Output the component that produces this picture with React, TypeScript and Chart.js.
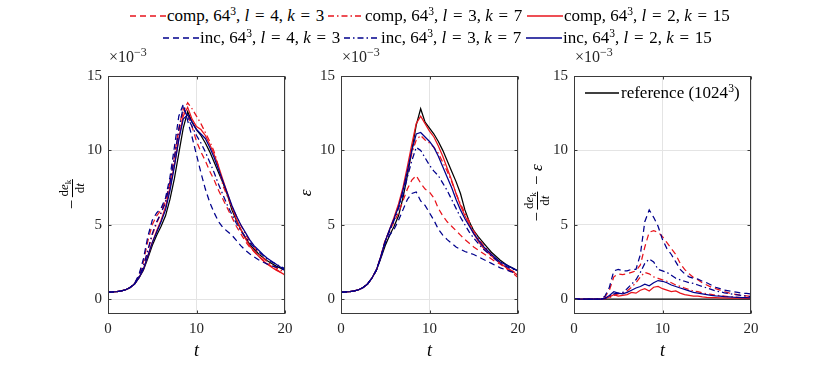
import React, { useEffect, useRef } from "react";
import { Chart, registerables } from "chart.js";

Chart.register(...registerables);

// ---------- data (values in units of 1e-3) ----------
const tValues = [0, 0.5, 1, 1.5, 2, 2.5, 3, 3.5, 4, 4.5, 5, 5.5, 6, 6.5, 7, 7.5, 8, 8.5, 9, 9.5, 10, 10.5, 11, 11.5, 12, 12.5, 13, 13.5, 14, 14.5, 15, 15.5, 16, 16.5, 17, 17.5, 18, 18.5, 19, 19.5, 20];
const xTicks = [0, 10, 20];
const yTicks = [0, 5, 10, 15];

// panel 1: -dE/dt
const p1Ref = [0.47, 0.48, 0.5, 0.55, 0.63, 0.78, 1.02, 1.42, 1.95, 2.75, 3.6, 4.3, 4.9, 5.6, 6.7, 8.1, 9.8, 11.5, 12.6, 11.9, 11.4, 11.0, 10.5, 9.9, 9.2, 8.5, 7.8, 7.0, 6.0, 5.3, 4.7, 4.15, 3.7, 3.35, 3.05, 2.8, 2.58, 2.4, 2.22, 2.08, 1.95];
const p1C43 = [0.47, 0.48, 0.5, 0.55, 0.63, 0.78, 1.05, 1.6, 2.5, 3.9, 5.0, 5.6, 6.0, 6.6, 7.8, 9.6, 11.5, 12.8, 12.4, 11.6, 10.6, 9.9, 9.3, 8.6, 8.0, 7.3, 6.7, 6.1, 5.5, 4.9, 4.4, 3.9, 3.5, 3.2, 2.9, 2.65, 2.4, 2.2, 2.0, 1.8, 1.6];
const p1I43 = [0.47, 0.48, 0.5, 0.55, 0.63, 0.78, 1.05, 1.65, 2.7, 4.2, 5.3, 5.8, 6.1, 6.8, 8.2, 10.2, 12.3, 13.1, 12.0, 10.9, 9.7, 8.5, 7.4, 6.5, 5.8, 5.2, 4.8, 4.55, 4.3, 3.95, 3.6, 3.3, 3.05, 2.85, 2.65, 2.5, 2.35, 2.25, 2.15, 2.05, 1.95];
const p1C37 = [0.47, 0.48, 0.5, 0.55, 0.63, 0.78, 1.03, 1.5, 2.2, 3.2, 4.3, 5.1, 5.8, 6.6, 7.9, 9.5, 11.3, 12.6, 13.2, 12.8, 12.3, 11.8, 11.2, 10.6, 9.9, 8.9, 7.6, 6.9, 6.2, 5.6, 5.0, 4.4, 3.9, 3.5, 3.1, 2.8, 2.5, 2.3, 2.1, 1.95, 1.8];
const p1I37 = [0.47, 0.48, 0.5, 0.55, 0.63, 0.78, 1.03, 1.5, 2.2, 3.3, 4.4, 5.2, 5.8, 6.5, 7.8, 9.5, 11.4, 12.9, 12.2, 11.6, 11.0, 10.5, 9.9, 9.2, 8.5, 7.7, 7.0, 6.3, 5.7, 5.1, 4.6, 4.2, 3.8, 3.5, 3.2, 2.95, 2.7, 2.5, 2.35, 2.2, 2.05];
const p1C215 = [0.47, 0.48, 0.5, 0.55, 0.63, 0.78, 1.02, 1.45, 2.0, 2.9, 3.8, 4.6, 5.3, 6.2, 7.5, 9.0, 10.8, 12.3, 12.9, 12.1, 11.6, 11.4, 11.0, 10.4, 9.7, 8.9, 8.0, 7.1, 6.2, 5.4, 4.7, 4.1, 3.6, 3.2, 2.9, 2.6, 2.35, 2.15, 1.95, 1.8, 1.62];
const p1I215 = [0.47, 0.48, 0.5, 0.55, 0.63, 0.78, 1.02, 1.45, 2.0, 2.9, 3.8, 4.5, 5.2, 6.0, 7.3, 8.9, 10.7, 12.1, 12.4, 11.9, 11.4, 11.1, 10.8, 10.2, 9.5, 8.7, 7.9, 7.1, 6.3, 5.6, 5.0, 4.5, 4.0, 3.6, 3.3, 3.0, 2.75, 2.55, 2.35, 2.15, 2.0];

// panel 2: epsilon
const p2Ref = [0.47, 0.48, 0.5, 0.55, 0.63, 0.78, 1.02, 1.42, 1.95, 2.75, 3.6, 4.3, 4.9, 5.6, 6.8, 8.3, 10.0, 11.7, 12.8, 11.9, 11.5, 11.1, 10.6, 10.0, 9.3, 8.6, 7.9, 7.1, 6.0, 5.2, 4.6, 4.2, 3.85, 3.5, 3.15, 2.88, 2.62, 2.4, 2.2, 2.05, 1.9];
const p2C43 = [0.47, 0.48, 0.5, 0.55, 0.63, 0.78, 1.02, 1.42, 1.95, 2.9, 4.0, 4.6, 5.2, 5.8, 6.6, 7.4, 8.0, 8.3, 7.8, 7.4, 7.2, 6.8, 6.1, 5.6, 5.2, 4.9, 4.6, 4.3, 4.0, 3.75, 3.5, 3.3, 3.1, 2.9, 2.7, 2.5, 2.35, 2.15, 1.9, 1.7, 1.45];
const p2I43 = [0.47, 0.48, 0.5, 0.55, 0.63, 0.78, 1.02, 1.42, 1.95, 2.8, 3.8, 4.3, 4.7, 5.3, 6.0, 6.7, 7.1, 7.2, 6.6, 6.3, 5.8, 5.3, 4.7, 4.3, 4.0, 3.75, 3.5, 3.35, 3.2, 3.1, 3.0, 2.85, 2.7, 2.55, 2.4, 2.25, 2.1, 2.0, 1.9, 1.78, 1.65];
const p2C37 = [0.47, 0.48, 0.5, 0.55, 0.63, 0.78, 1.02, 1.42, 1.95, 2.85, 3.9, 4.6, 5.4, 6.3, 7.3, 8.5, 9.8, 10.7, 11.0, 10.7, 10.5, 10.2, 9.8, 9.2, 8.6, 7.9, 7.1, 6.4, 5.8, 5.2, 4.6, 4.1, 3.7, 3.35, 3.0, 2.7, 2.4, 2.2, 2.0, 1.85, 1.7];
const p2I37 = [0.47, 0.48, 0.5, 0.55, 0.63, 0.78, 1.02, 1.42, 1.95, 2.85, 3.9, 4.6, 5.3, 6.1, 7.0, 8.2, 9.3, 10.2, 10.0, 9.5, 9.0, 8.6, 8.3, 7.8, 7.3, 6.7, 6.1, 5.5, 5.0, 4.5, 4.1, 3.75, 3.4, 3.15, 2.9, 2.65, 2.4, 2.25, 2.1, 2.0, 1.9];
const p2C215 = [0.47, 0.48, 0.5, 0.55, 0.63, 0.78, 1.02, 1.42, 1.95, 2.85, 3.9, 4.7, 5.5, 6.4, 7.5, 8.9, 10.4, 11.8, 12.3, 11.8, 11.3, 10.9, 10.3, 9.6, 8.8, 8.0, 7.1, 6.3, 5.6, 5.0, 4.4, 3.9, 3.5, 3.2, 2.9, 2.65, 2.4, 2.2, 2.0, 1.8, 1.6];
const p2I215 = [0.47, 0.48, 0.5, 0.55, 0.63, 0.78, 1.02, 1.42, 1.95, 2.85, 3.9, 4.7, 5.4, 6.2, 7.3, 8.6, 10.0, 11.1, 11.2, 10.9, 10.6, 10.2, 9.6, 8.9, 8.2, 7.5, 6.7, 6.0, 5.4, 4.9, 4.4, 4.0, 3.6, 3.3, 3.0, 2.75, 2.5, 2.35, 2.2, 2.05, 1.9];

// panel 3: -dE/dt - epsilon
const p3Ref = [0, 0, 0, 0, 0, 0, 0, 0, 0, 0, 0, 0, 0, 0, 0, 0, 0, 0, 0, 0, 0, 0, 0, 0, 0, 0, 0, 0, 0, 0, 0, 0, 0, 0, 0, 0, 0, 0, 0, 0, 0];
const p3C43 = [0, 0, 0, 0, 0, 0, 0, 0.15, 0.6, 1.5, 1.7, 1.65, 1.7, 1.8, 1.9, 2.3, 3.5, 4.5, 4.6, 4.5, 4.2, 3.8, 3.4, 3.0, 2.4, 2.0, 1.7, 1.45, 1.3, 1.1, 0.95, 0.8, 0.7, 0.6, 0.5, 0.42, 0.35, 0.3, 0.25, 0.22, 0.18];
const p3I43 = [0, 0, 0, 0, 0, 0, 0, 0.2, 0.8, 1.9, 2.0, 1.9, 1.9, 2.0, 2.0, 3.0, 5.2, 6.0, 5.5, 4.9, 4.0, 3.4, 3.0, 2.5, 2.0, 1.7, 1.5, 1.4, 1.35, 1.2, 1.1, 0.95, 0.8, 0.7, 0.6, 0.55, 0.5, 0.45, 0.4, 0.38, 0.35];
const p3C37 = [0, 0, 0, 0, 0, 0, 0, 0.05, 0.1, 0.25, 0.35, 0.4, 0.55, 0.8, 1.1, 1.5, 1.8, 1.7, 1.5, 1.4, 1.3, 1.2, 1.1, 0.95, 0.85, 0.75, 0.65, 0.55, 0.5, 0.42, 0.37, 0.32, 0.27, 0.23, 0.2, 0.17, 0.14, 0.12, 0.1, 0.09, 0.08];
const p3I37 = [0, 0, 0, 0, 0, 0, 0, 0.05, 0.2, 0.35, 0.4, 0.45, 0.7, 1.0, 1.3, 1.8, 2.4, 2.7, 2.5, 2.0, 1.9, 1.8, 1.6, 1.4, 1.3, 1.2, 1.1, 1.05, 0.95, 0.85, 0.75, 0.65, 0.55, 0.5, 0.42, 0.38, 0.33, 0.28, 0.24, 0.2, 0.18];
const p3C215 = [0, 0, 0, 0, 0, 0, 0, 0.03, 0.15, 0.3, 0.2, 0.25, 0.3, 0.45, 0.4, 0.6, 0.7, 0.55, 0.8, 0.85, 0.7, 0.6, 0.5, 0.55, 0.4, 0.3, 0.25, 0.2, 0.2, 0.15, 0.12, 0.1, 0.1, 0.09, 0.08, 0.07, 0.07, 0.06, 0.06, 0.05, 0.05];
const p3I215 = [0, 0, 0, 0, 0, 0, 0, 0.05, 0.25, 0.5, 0.4, 0.35, 0.45, 0.6, 0.75, 0.85, 1.0, 0.9, 1.1, 1.25, 1.2, 1.1, 0.95, 0.85, 0.75, 0.65, 0.55, 0.45, 0.4, 0.35, 0.3, 0.25, 0.22, 0.2, 0.17, 0.15, 0.13, 0.12, 0.1, 0.1, 0.09];

// ---------- styles ----------
const RED = "#e8141c";
const BLUE = "#00008c";
const BLACK = "#000000";
const DASH = [6, 4];
const DASHDOT = [6, 3, 1.5, 3];
const SERIF = '"Liberation Serif", "Times New Roman", serif';

type Series = { values: number[]; color: string; dash: number[] };

function makeSeries(ref: number[], c43: number[], i43: number[], c37: number[], i37: number[], c215: number[], i215: number[]): Series[] {
  return [
    { values: ref, color: BLACK, dash: [] },
    { values: c43, color: RED, dash: DASH },
    { values: c37, color: RED, dash: DASHDOT },
    { values: c215, color: RED, dash: [] },
    { values: i43, color: BLUE, dash: DASH },
    { values: i37, color: BLUE, dash: DASHDOT },
    { values: i215, color: BLUE, dash: [] },
  ];
}

const YW = 45;
const XH = 32;
const PT = 10;
const PR = 14;
const PLOT_W = 177;
const PLOT_H = 243;
const PLOT_TOP = 71;

const framePlugin = {
  id: "frame",
  afterDraw(chart: any) {
    const { ctx, chartArea } = chart;
    const l = Math.round(chartArea.left) + 0.5;
    const r = Math.round(chartArea.right) - 0.5;
    const t = Math.round(chartArea.top) + 0.5;
    const b = Math.round(chartArea.bottom) - 0.5;
    ctx.save();
    ctx.strokeStyle = "#3a3a3a";
    ctx.lineWidth = 1;
    ctx.strokeRect(l, t, r - l, b - t);
    const xs = chart.scales.x;
    const ys = chart.scales.y;
    ctx.beginPath();
    xTicks.forEach((v) => {
      const px = Math.round(xs.getPixelForValue(v)) + 0.5;
      ctx.moveTo(px, b);
      ctx.lineTo(px, b - 3);
      ctx.moveTo(px, t);
      ctx.lineTo(px, t + 3);
    });
    yTicks.forEach((v) => {
      const py = Math.round(ys.getPixelForValue(v)) + 0.5;
      ctx.moveTo(l, py);
      ctx.lineTo(l + 3, py);
      ctx.moveTo(r, py);
      ctx.lineTo(r - 3, py);
    });
    ctx.stroke();
    ctx.restore();
  },
};

function Panel({ plotLeft, series }: { plotLeft: number; series: Series[] }) {
  const ref = useRef<HTMLCanvasElement | null>(null);
  useEffect(() => {
    if (!ref.current) return;
    const chart = new Chart(ref.current, {
      type: "line",
      data: {
        datasets: series.map((s, i) => ({
          data: tValues.map((t, j) => ({ x: t, y: s.values[j] })),
          borderColor: s.color,
          borderDash: s.dash,
          borderWidth: 1.25,
          pointRadius: 0,
          fill: false,
          tension: 0,
          order: i === 0 ? 10 : 7 - i,
        })),
      },
      options: {
        animation: false,
        responsive: false,
        maintainAspectRatio: false,
        events: [],
        layout: { padding: { top: PT, right: PR, left: 0, bottom: 0 } },
        plugins: { legend: { display: false }, tooltip: { enabled: false } },
        scales: {
          x: {
            type: "linear",
            min: 0,
            max: 20,
            afterBuildTicks: (s: any) => {
              s.ticks = xTicks.map((v) => ({ value: v }));
            },
            afterFit: (s: any) => {
              s.height = XH;
            },
            grid: { color: "#e4e4e4", drawTicks: false, lineWidth: 1 },
            border: { display: false },
            ticks: { font: { family: SERIF, size: 15 }, color: "#262626", padding: 6, maxRotation: 0 },
          },
          y: {
            type: "linear",
            min: -1,
            max: 15,
            afterBuildTicks: (s: any) => {
              s.ticks = yTicks.map((v) => ({ value: v }));
            },
            afterFit: (s: any) => {
              s.width = YW;
            },
            grid: { color: "#e4e4e4", drawTicks: false, lineWidth: 1 },
            border: { display: false },
            ticks: { font: { family: SERIF, size: 15 }, color: "#262626", padding: 6 },
          },
        },
      } as any,
      plugins: [framePlugin],
    });
    return () => chart.destroy();
  }, []);
  const w = YW + PLOT_W + PR;
  const h = PT + PLOT_H + XH;
  return (
    <canvas
      ref={ref}
      width={w}
      height={h}
      style={{ position: "absolute", left: plotLeft - YW, top: PLOT_TOP - PT, width: w, height: h }}
    />
  );
}

function Sup({ children }: { children: React.ReactNode }) {
  return <span style={{ fontSize: "0.68em", position: "relative", top: "-0.5em" }}>{children}</span>;
}

const SP = "\u2004";

function Label({ kind, n, l, k }: { kind: string; n: string; l: string; k: string }) {
  return (
    <span>
      {kind}, 64<Sup>{n}</Sup>, <i>l</i>{SP}={SP}{l}, <i>k</i>{SP}={SP}{k}
    </span>
  );
}

function LegendItem({ x, tx, y, color, dash, children }: any) {
  return (
    <>
      <svg width={36} height={6} style={{ position: "absolute", left: x, top: y - 3 }}>
        <line x1={0} y1={3} x2={36} y2={3} stroke={color} strokeWidth={1.4} strokeDasharray={dash} />
      </svg>
      <div style={{ position: "absolute", left: tx, top: y - 11, height: 22, lineHeight: "22px", whiteSpace: "nowrap", fontFamily: SERIF, fontSize: 17, color: "#000" }}>
        {children}
      </div>
    </>
  );
}

function Frac({ num, den }: { num: React.ReactNode; den: React.ReactNode }) {
  return (
    <span style={{ display: "inline-flex", flexDirection: "column", alignItems: "center", fontSize: 13, lineHeight: "12px", margin: "0 2px", verticalAlign: "middle" }}>
      <span style={{ padding: "0 1px 1px" }}>{num}</span>
      <span style={{ borderTop: "1px solid #000", alignSelf: "stretch", textAlign: "center", paddingTop: 1 }}>{den}</span>
    </span>
  );
}

const deNum = (
  <span>
    d<i>e</i>
    <span style={{ fontSize: 9, position: "relative", top: 3 }}>k</span>
  </span>
);
const dtDen = (
  <span>
    d<i>t</i>
  </span>
);

function YLabel({ cx, children }: { cx: number; children: React.ReactNode }) {
  return (
    <div
      style={{
        position: "absolute",
        left: cx,
        top: PLOT_TOP + PLOT_H / 2,
        transform: "translate(-50%, -50%) rotate(-90deg)",
        whiteSpace: "nowrap",
        fontFamily: SERIF,
        fontSize: 17,
        color: "#000",
        display: "flex",
        alignItems: "center",
      }}
    >
      {children}
    </div>
  );
}

function Exponent({ x }: { x: number }) {
  return (
    <div style={{ position: "absolute", left: x, top: 47, fontFamily: SERIF, fontSize: 16, color: "#262626", whiteSpace: "nowrap", lineHeight: "20px" }}>
      ×10<span style={{ fontSize: 12, position: "relative", top: -6 }}>−3</span>
    </div>
  );
}

function XLabel({ cx }: { cx: number }) {
  return (
    <div style={{ position: "absolute", left: cx, top: 350, transform: "translate(-50%, -50%)", fontFamily: SERIF, fontSize: 18, fontStyle: "italic", color: "#000" }}>
      t
    </div>
  );
}

const P1 = 108;
const P2 = 341;
const P3 = 574;

export default function App() {
  const s1 = makeSeries(p1Ref, p1C43, p1I43, p1C37, p1I37, p1C215, p1I215);
  const s2 = makeSeries(p2Ref, p2C43, p2I43, p2C37, p2I37, p2C215, p2I215);
  const s3 = makeSeries(p3Ref, p3C43, p3I43, p3C37, p3I37, p3C215, p3I215);
  return (
    <div style={{ position: "fixed", left: 0, top: 0, width: 830, height: 375, background: "#fff", overflow: "hidden" }}>
      <Panel plotLeft={P1} series={s1} />
      <Panel plotLeft={P2} series={s2} />
      <Panel plotLeft={P3} series={s3} />

      <Exponent x={P1 + 1} />
      <Exponent x={P2 + 1} />
      <Exponent x={P3 + 1} />

      <XLabel cx={P1 + PLOT_W / 2} />
      <XLabel cx={P2 + PLOT_W / 2} />
      <XLabel cx={P3 + PLOT_W / 2} />

      <YLabel cx={72}>
        <span>−</span>
        <Frac num={deNum} den={dtDen} />
      </YLabel>
      <YLabel cx={306}>
        <i>ε</i>
      </YLabel>
      <YLabel cx={537}>
        <span>−</span>
        <Frac num={deNum} den={dtDen} />
        <span>&nbsp;−&nbsp;</span>
        <i>ε</i>
      </YLabel>

      {/* main legend */}
      <LegendItem x={130} tx={167} y={16} color={RED} dash="6 4">
        <Label kind="comp" n="3" l="4" k="3" />
      </LegendItem>
      <LegendItem x={328} tx={365} y={16} color={RED} dash="6 3 1.5 3">
        <Label kind="comp" n="3" l="3" k="7" />
      </LegendItem>
      <LegendItem x={527} tx={564} y={16} color={RED} dash="">
        <Label kind="comp" n="3" l="2" k="15" />
      </LegendItem>
      <LegendItem x={163} tx={200} y={38} color={BLUE} dash="6 4">
        <Label kind="inc" n="3" l="4" k="3" />
      </LegendItem>
      <LegendItem x={344} tx={381} y={38} color={BLUE} dash="6 3 1.5 3">
        <Label kind="inc" n="3" l="3" k="7" />
      </LegendItem>
      <LegendItem x={526} tx={563} y={38} color={BLUE} dash="">
        <Label kind="inc" n="3" l="2" k="15" />
      </LegendItem>

      {/* panel 3 legend */}
      <svg width={34} height={6} style={{ position: "absolute", left: 585, top: 90 }}>
        <line x1={0} y1={3} x2={34} y2={3} stroke={BLACK} strokeWidth={1.3} />
      </svg>
      <div style={{ position: "absolute", left: 621, top: 82, lineHeight: "22px", fontFamily: SERIF, fontSize: 17, whiteSpace: "nowrap", color: "#000" }}>
        reference (1024<Sup>3</Sup>)
      </div>
    </div>
  );
}
